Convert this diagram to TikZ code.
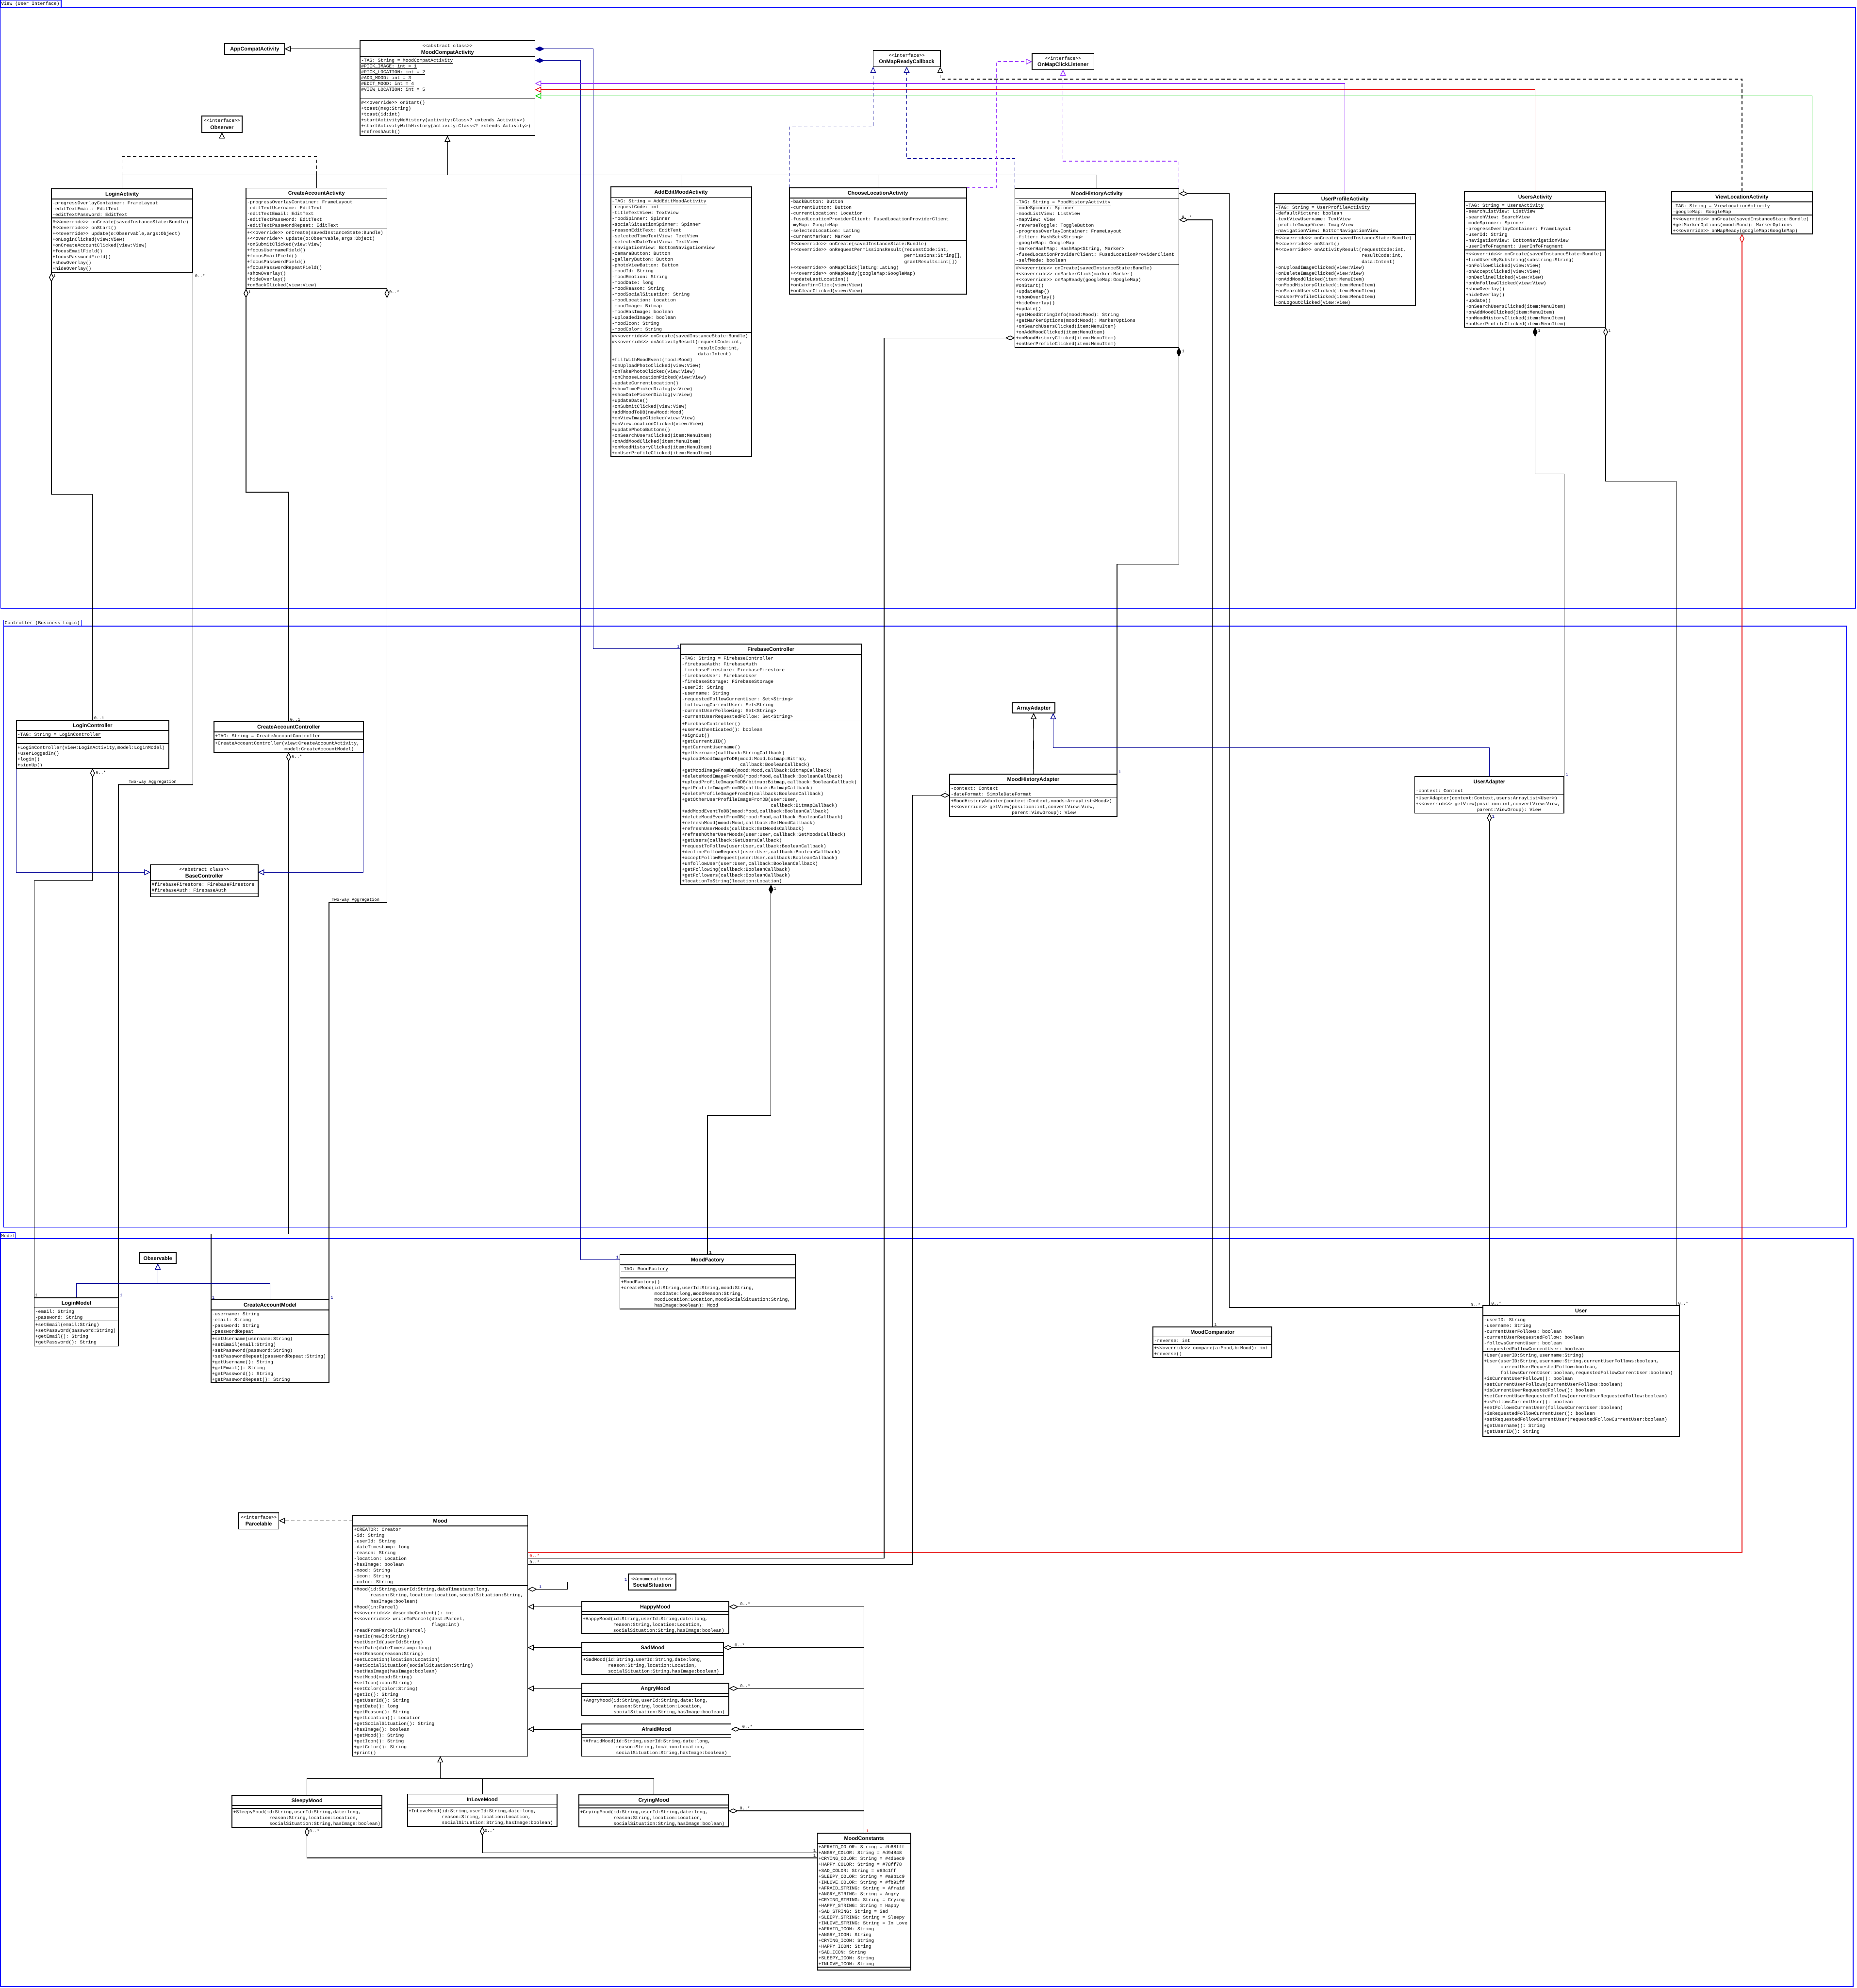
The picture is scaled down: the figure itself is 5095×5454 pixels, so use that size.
\documentclass[tikz,border=0pt]{standalone}
\usepackage{fontspec}
\setmonofont{Liberation Mono}
\newfontfamily\titlefam{Liberation Sans}
\usetikzlibrary{arrows.meta}
\definecolor{fblue}{RGB}{0,0,255}
\definecolor{cblue}{RGB}{0,0,150}
\definecolor{cpurple}{RGB}{153,51,255}
\definecolor{cred}{RGB}{230,0,0}
\definecolor{cgreen}{RGB}{0,210,0}
\newcommand{\memf}{\ttfamily\fontsize{12.7}{16}\selectfont}
\newcommand{\titlef}{\titlefam\bfseries\fontsize{14.5}{17}\selectfont}
\newcommand{\lblf}{\ttfamily\fontsize{11.5}{13}\selectfont}
\newcommand{\stt}[1]{<\kern0pt<#1>\kern0pt>}
\newcommand{\ovr}{\stt{override}}
\newcommand{\indt}[1]{\hspace*{#1\dimexpr0.6em\relax}}
\pgfdeclarelayer{bg}
\pgfsetlayers{bg,main}
\tikzset{
  box/.style={draw, line width=2.4pt, anchor=north west, inner sep=0pt, outer sep=0pt, fill=white},
  sec/.style={line width=2pt},
  ttl/.style={font=\titlef, inner sep=0pt, text height=10.5pt, text depth=0pt},
  stereo/.style={font=\memf, inner sep=0pt, text height=9pt, text depth=0pt},
  memb/.style={font=\memf, anchor=north west, inner sep=0pt, align=left},
  conn/.style={line width=1.8pt},
  gen/.style={conn, -{Triangle[open, length=17pt, width=16pt, fill=white]}},
  real/.style={gen, dash pattern=on 9pt off 7pt},
  dsh/.style={conn, dash pattern=on 9pt off 7pt},
  agg/.style={conn, {Diamond[open, length=26pt, width=13pt, fill=white]}-},
  comp/.style={conn, {Diamond[length=26pt, width=13pt]}-},
  lbl/.style={font=\lblf, inner sep=1pt},
  frm/.style={draw=fblue, line width=2pt},
  tabl/.style={font=\memf, inner sep=0pt, anchor=west},
}
\newcommand{\umlc}[8]{%
  \node[box, minimum width={#4-#2}, minimum height={#5-#3}] (#1) at (#2,#3) {};
  \draw[sec] (#2,#6) -- (#4,#6);
  \draw[sec] (#2,#7) -- (#4,#7);
  \node[ttl] at ({(#2+#4)/2},{(#3+#6)/2}) {#8};}
\newcommand{\mbr}[3]{\node[memb] at ({#1+3},{#2+3}) {\rule{0pt}{11.5pt}#3};}
\begin{document}
\begin{tikzpicture}[x=1pt,y=-1pt]
\useasboundingbox (0,0) rectangle (5095,5454);

% ================= simple boxes =================
\node[box, minimum width=164, minimum height=29] (appc) at (617,120) {};
\node[ttl] at (699,134.5) {AppCompatActivity};
\node[box, minimum width=110, minimum height=45] (obs) at (554,318) {};
\node[stereo] at (609,331) {\stt{interface}};
\node[ttl] at (609,349) {Observer};
\node[box, minimum width=184, minimum height=45] (omrc) at (2396,138) {};
\node[stereo] at (2488,152) {\stt{interface}};
\node[ttl] at (2488,169) {OnMapReadyCallback};
\node[box, minimum width=170, minimum height=44] (omcl) at (2832,147) {};
\node[stereo] at (2917,160) {\stt{interface}};
\node[ttl] at (2917,177) {OnMapClickListener};
\node[box, minimum width=117, minimum height=28] (arrA) at (2778,1928) {};
\node[ttl] at (2836.5,1942) {ArrayAdapter};
\node[box, minimum width=100, minimum height=29] (observable) at (383,3437) {};
\node[ttl] at (433,3451.5) {Observable};
\node[box, minimum width=110, minimum height=45] (parc) at (655,4150) {};
\node[stereo] at (710,4163) {\stt{interface}};
\node[ttl] at (710,4181) {Parcelable};
\node[box, minimum width=131, minimum height=44] (soc) at (1724,4318) {};
\node[stereo] at (1789.5,4331) {\stt{enumeration}};
\node[ttl] at (1789.5,4348) {SocialSituation};

% ================= View classes =================
\umlc{mca}{988}{111}{1468}{372}{155}{271}{}
\node[stereo] at (1228,125) {\stt{abstract class}};
\node[ttl] at (1228,143) {MoodCompatActivity};
\mbr{988}{155}{\underline{-TAG: String = MoodCompatActivity}\\\underline{\#PICK\_IMAGE: int = 1}\\\underline{\#PICK\_LOCATION: int = 2}\\\underline{\#ADD\_MOOD: int = 3}\\\underline{\#EDIT\_MOOD: int = 4}\\\underline{\#VIEW\_LOCATION: int = 5}}
\mbr{988}{271}{\#\ovr{} onStart()\\+toast(msg:String)\\+toast(id:int)\\+startActivityNoHistory(activity:Class<? extends Activity>)\\+startActivityWithHistory(activity:Class<? extends Activity>)\\+refreshAuth()}

\umlc{loginA}{141}{518}{529}{748}{546}{598}{LoginActivity}
\mbr{141}{546}{-progressOverlayContainer: FrameLayout\\-editTextEmail: EditText\\-editTextPassword: EditText}
\mbr{141}{598}{\#\ovr{} onCreate(savedInstanceState:Bundle)\\\#\ovr{} onStart()\\+\ovr{} update(o:Observable,args:Object)\\+onLoginClicked(view:View)\\+onCreateAccountClicked(view:View)\\+focusEmailField()\\+focusPasswordField()\\+showOverlay()\\+hideOverlay()}

\umlc{createA}{675}{516}{1062}{792}{544}{628}{CreateAccountActivity}
\mbr{675}{544}{-progressOverlayContainer: FrameLayout\\-editTextUsername: EditText\\-editTextEmail: EditText\\-editTextPassword: EditText\\-editTextPasswordRepeat: EditText}
\mbr{675}{628}{+\ovr{} onCreate(savedInstanceState:Bundle)\\+\ovr{} update(o:Observable,args:Object)\\+onSubmitClicked(view:View)\\+focusUsernameField()\\+focusEmailField()\\+focusPasswordField()\\+focusPasswordRepeatField()\\+showOverlay()\\+hideOverlay()\\+onBackClicked(view:View)}

\umlc{addEdit}{1676}{513}{2062}{1253}{541}{912}{AddEditMoodActivity}
\mbr{1676}{541}{\underline{-TAG: String = AddEditMoodActivity}\\-requestCode: int\\-titleTextView: TextView\\-moodSpinner: Spinner\\-socialSituationSpinner: Spinner\\-reasonEditText: EditText\\-selectedTimeTextView: TextView\\-selectedDateTextView: TextView\\-navigationView: BottomNavigationView\\-camaraButton: Button\\-galleryButton: Button\\-photoViewButton: Button\\-moodId: String\\-moodEmotion: String\\-moodDate: long\\-moodReason: String\\-moodSocialSituation: String\\-moodLocation: Location\\-moodImage: Bitmap\\-moodHasImage: boolean\\-uploadedImage: boolean\\-moodIcon: String\\-moodColor: String}
\mbr{1676}{912}{\#\ovr{} onCreate(savedInstanceState:Bundle)\\\#\ovr{} onActivityResult(requestCode:int,\\\indt{31}resultCode:int,\\\indt{31}data:Intent)\\+fillWithMoodEvent(mood:Mood)\\+onUploadPhotoClicked(view:View)\\+onTakePhotoClicked(view:View)\\+onChooseLocationPicked(view:View)\\-updateCurrentLocation()\\+showTimePickerDialog(v:View)\\+showDatePickerDialog(v:View)\\+updateDate()\\+onSubmitClicked(view:View)\\+addMoodToDB(newMood:Mood)\\+onViewImageClicked(view:View)\\+onViewLocationClicked(view:View)\\+updatePhotoButtons()\\+onSearchUsersClicked(item:MenuItem)\\+onAddMoodClicked(item:MenuItem)\\+onMoodHistoryClicked(item:MenuItem)\\+onUserProfileClicked(item:MenuItem)}

\umlc{chooseL}{2166}{515}{2652}{807}{543}{659}{ChooseLocationActivity}
\mbr{2166}{543}{-backButton: Button\\-currentButton: Button\\-currentLocation: Location\\-fusedLocationProviderClient: FusedLocationProviderClient\\-myMap: GoogleMap\\-selectedLocation: LatLng\\-currentMarker: Marker}
\mbr{2166}{659}{\#\ovr{} onCreate(savedInstanceState:Bundle)\\+\ovr{} onRequestPermissionsResult(requestCode:int,\\\indt{41}permissions:String[],\\\indt{41}grantResults:int[])\\+\ovr{} onMapClick(latLng:LatLng)\\+\ovr{} onMapReady(googleMap:GoogleMap)\\+updateLastLocation()\\+onConfirmClick(view:View)\\+onClearClicked(view:View)}

\umlc{mha}{2785}{517}{3235}{953}{544}{725}{MoodHistoryActivity}
\mbr{2785}{544}{\underline{-TAG: String = MoodHistoryActivity}\\-modeSpinner: Spinner\\-moodListView: ListView\\-mapView: View\\-reverseToggle: ToggleButton\\-progressOverlayContainer: FrameLayout\\-filter: HashSet<String>\\-googleMap: GoogleMap\\-markerHashMap: HashMap<String, Marker>\\-fusedLocationProviderClient: FusedLocationProviderClient\\-selfMode: boolean}
\mbr{2785}{725}{\#\ovr{} onCreate(savedInstanceState:Bundle)\\+\ovr{} onMarkerClick(marker:Marker)\\+\ovr{} onMapReady(googleMap:GoogleMap)\\\#onStart()\\+updateMap()\\+showOverlay()\\+hideOverlay()\\+update()\\+getMoodStringInfo(mood:Mood): String\\+getMarkerOptions(mood:Mood): MarkerOptions\\+onSearchUsersClicked(item:MenuItem)\\+onAddMoodClicked(item:MenuItem)\\+onMoodHistoryClicked(item:MenuItem)\\+onUserProfileClicked(item:MenuItem)}

\umlc{upa}{3497}{531}{3884}{839}{559}{643}{UserProfileActivity}
\mbr{3497}{559}{\underline{-TAG: String = UserProfileActivity}\\-defaultPicture: boolean\\-textViewUsername: TextView\\-profileImageView: ImageView\\-navigationView: BottomNavigationView}
\mbr{3497}{643}{\#\ovr{} onCreate(savedInstanceState:Bundle)\\\#\ovr{} onStart()\\\#\ovr{} onActivityResult(requestCode:int,\\\indt{31}resultCode:int,\\\indt{31}data:Intent)\\+onUploadImageClicked(view:View)\\+onDeleteImageClicked(view:View)\\+onAddMoodClicked(item:MenuItem)\\+onMoodHistoryClicked(item:MenuItem)\\+onSearchUsersClicked(item:MenuItem)\\+onUserProfileClicked(item:MenuItem)\\+onLogoutClicked(view:View)}

\umlc{usersA}{4019}{526}{4406}{898}{553}{686}{UsersActivity}
\mbr{4019}{553}{\underline{-TAG: String = UsersActivity}\\-searchListView: ListView\\-searchView: SearchView\\-modeSpinner: Spinner\\-progressOverlayContainer: FrameLayout\\-userId: String\\-navigationView: BottomNavigationView\\-userInfoFragment: UserInfoFragment}
\mbr{4019}{686}{+\ovr{} onCreate(savedInstanceState:Bundle)\\+findUsersBySubstring(substring:String)\\+onFollowClicked(view:View)\\+onAcceptClicked(view:View)\\+onDeclineClicked(view:View)\\+onUnfollowClicked(view:View)\\+showOverlay()\\+hideOverlay()\\+update()\\+onSearchUsersClicked(item:MenuItem)\\+onAddMoodClicked(item:MenuItem)\\+onMoodHistoryClicked(item:MenuItem)\\+onUserProfileClicked(item:MenuItem)}

\umlc{vla}{4587}{526}{4973}{642}{554}{590}{ViewLocationActivity}
\mbr{4587}{554}{\underline{-TAG: String = ViewLocationActivity}\\-googleMap: GoogleMap}
\mbr{4587}{590}{+\ovr{} onCreate(savedInstanceState:Bundle)\\+getMarkerOptions(mood:Mood): MarkerOptions\\+\ovr{} onMapReady(googleMap:GoogleMap)}

% ================= Controller classes =================
\umlc{loginC}{45}{1976}{463}{2108}{2004}{2040}{LoginController}
\mbr{45}{2004}{\underline{-TAG: String = LoginController}}
\mbr{45}{2040}{+LoginController(view:LoginActivity,model:LoginModel)\\+userLoggedIn()\\+login()\\+signUp()}

\umlc{createC}{587}{1980}{997}{2064}{2008}{2028}{CreateAccountController}
\mbr{587}{2008}{+TAG: String = CreateAccountController}
\mbr{587}{2028}{+CreateAccountController(view:CreateAccountActivity,\\\indt{25}model:CreateAccountModel)}

\umlc{baseC}{413}{2372}{708}{2460}{2416}{2452}{}
\node[stereo] at (560.5,2385) {\stt{abstract class}};
\node[ttl] at (560.5,2403) {BaseController};
\mbr{413}{2416}{\#firebaseFirestore: FirebaseFirestore\\\#firebaseAuth: FirebaseAuth}

\umlc{fbc}{1868}{1767}{2363}{2427}{1795}{1975}{FirebaseController}
\mbr{1868}{1795}{-TAG: String = FirebaseController\\-firebaseAuth: FirebaseAuth\\-firebaseFirestore: FirebaseFirestore\\-firebaseUser: FirebaseUser\\-firebaseStorage: FirebaseStorage\\-userId: String\\-username: String\\-requestedFollowCurrentUser: Set<String>\\-followingCurrentUser: Set<String\\-currentUserFollowing: Set<String>\\-currentUserRequestedFollow: Set<String>}
\mbr{1868}{1975}{+FirebaseController()\\+userAuthenticated(): boolean\\+signOut()\\+getCurrentUID()\\+getCurrentUsername()\\+getUsername(callback:StringCallback)\\+uploadMoodImageToDB(mood:Mood,bitmap:Bitmap,\\\indt{21}callback:BooleanCallback)\\+getMoodImageFromDB(mood:Mood,callback:BitmapCallback)\\+deleteMoodImageFromDB(mood:Mood,callback:BooleanCallback)\\+uploadProfileImageToDB(bitmap:Bitmap,callback:BooleanCallback)\\+getProfileImageFromDB(callback:BitmapCallback)\\+deleteProfileImageFromDB(callback:BooleanCallback)\\+getOtherUserProfileImageFromDB(user:User,\\\indt{32}callback:BitmapCallback)\\+addMoodEventToDB(mood:Mood,callback:BooleanCallback)\\+deleteMoodEventFromDB(mood:Mood,callback:BooleanCallback)\\+refreshMood(mood:Mood,callback:GetMoodCallback)\\+refreshUserMoods(callback:GetMoodsCallback)\\+refreshOtherUserMoods(user:User,callback:GetMoodsCallback)\\+getUsers(callback:GetUsersCallback)\\+requestToFollow(user:User,callback:BooleanCallback)\\+declineFollowRequest(user:User,callback:BooleanCallback)\\+acceptFollowRequest(user:User,callback:BooleanCallback)\\+unfollowUser(user:User,callback:BooleanCallback)\\+getFollowing(callback:BooleanCallback)\\+getFollowers(callback:BooleanCallback)\\+locationToString(location:Location)}

\umlc{mhad}{2606}{2124}{3065}{2240}{2152}{2187}{MoodHistoryAdapter}
\mbr{2606}{2152}{-context: Context\\-dateFormat: SimpleDateFormat}
\mbr{2606}{2187}{+MoodHistoryAdapter(context:Context,moods:ArrayList<Mood>)\\+\ovr{} getView(position:int,convertView:View,\\\indt{22}parent:ViewGroup): View}

\umlc{uad}{3882}{2130}{4292}{2231}{2159}{2179}{UserAdapter}
\mbr{3882}{2159}{-context: Context}
\mbr{3882}{2179}{+UserAdapter(context:Context,users:ArrayList<User>)\\+\ovr{} getView(position:int,convertView:View,\\\indt{22}parent:ViewGroup): View}

% ================= Model classes =================
\umlc{loginM}{94}{3560}{325}{3693}{3588}{3624}{LoginModel}
\mbr{94}{3588}{-email: String\\-password: String}
\mbr{94}{3624}{+setEmail(email:String)\\+setPassword(password:String)\\+getEmail(): String\\+getPassword(): String}

\umlc{createM}{579}{3566}{903}{3794}{3594}{3662}{CreateAccountModel}
\mbr{579}{3594}{-username: String\\-email: String\\-password: String\\-passwordRepeat}
\mbr{579}{3662}{+setUsername(username:String)\\+setEmail(email:String)\\+setPassword(password:String)\\+setPasswordRepeat(passwordRepeat:String)\\+getUsername(): String\\+getEmail(): String\\+getPassword(): String\\+getPasswordRepeat(): String}

\umlc{mfac}{1701}{3442}{2182}{3591}{3470}{3506}{MoodFactory}
\mbr{1701}{3470}{\underline{-TAG: MoodFactory}}
\mbr{1701}{3506}{+MoodFactory()\\+createMood(id:String,userId:String,mood:String,\\\indt{12}moodDate:long,moodReason:String,\\\indt{12}moodLocation:Location,moodSocialSituation:String,\\\indt{12}hasImage:boolean): Mood}

\umlc{mcomp}{3164}{3640}{3490}{3724}{3668}{3688}{MoodComparator}
\mbr{3164}{3668}{-reverse: int}
\mbr{3164}{3688}{+\ovr{} compare(a:Mood,b:Mood): int\\+reverse()}

\umlc{user}{4069}{3582}{4608}{3941}{3610}{3708}{User}
\mbr{4069}{3610}{-userID: String\\-username: String\\-currentUserFollows: boolean\\-currentUserRequestedFollow: boolean\\-followsCurrentUser: boolean\\-requestedFollowCurrentUser: boolean}
\mbr{4069}{3708}{+User(userID:String,username:String)\\+User(userID:String,username:String,currentUserFollows:boolean,\\\indt{6}currentUserRequestedFollow:boolean,\\\indt{6}followsCurrentUser:boolean,requestedFollowCurrentUser:boolean)\\+isCurrentUserFollows(): boolean\\+setCurrentUserFollows(currentUserFollows:boolean)\\+isCurrentUserRequestedFollow(): boolean\\+setCurrentUserRequestedFollow(currentUserRequestedFollow:boolean)\\+isFollowsCurrentUser(): boolean\\+setFollowsCurrentUser(followsCurrentUser:boolean)\\+isRequestedFollowCurrentUser(): boolean\\+setRequestedFollowCurrentUser(requestedFollowCurrentUser:boolean)\\+getUsername(): String\\+getUserID(): String}

\umlc{mood}{968}{4158}{1448}{4818}{4186}{4350}{Mood}
\mbr{968}{4186}{\underline{+CREATOR: Creator}\\-id: String\\-userId: String\\-dateTimestamp: long\\-reason: String\\-location: Location\\-hasImage: boolean\\-mood: String\\-icon: String\\-color: String}
\mbr{968}{4350}{+Mood(id:String,userId:String,dateTimestamp:long,\\\indt{6}reason:String,location:Location,socialSituation:String,\\\indt{6}hasImage:boolean)\\+Mood(in:Parcel)\\+\ovr{} describeContent(): int\\+\ovr{} writeToParcel(dest:Parcel,\\\indt{28}flags:int)\\+readFromParcel(in:Parcel)\\+setId(newId:String)\\+setUserId(userId:String)\\+setDate(dateTimestamp:long)\\+setReason(reason:String)\\+setLocation(location:Location)\\+setSocialSituation(socialSituation:String)\\+setHasImage(hasImage:boolean)\\+setMood(mood:String)\\+setIcon(icon:String)\\+setColor(color:String)\\+getId(): String\\+getUserId(): String\\+getDate(): long\\+getReason(): String\\+getLocation(): Location\\+getSocialSituation(): String\\+hasImage(): boolean\\+getMood(): String\\+getIcon(): String\\+getColor(): String\\+print()}

\umlc{happy}{1596}{4394}{2000}{4482}{4421}{4430}{HappyMood}
\mbr{1596}{4430}{+HappyMood(id:String,userId:String,date:long,\\\indt{11}reason:String,location:Location,\\\indt{11}socialSituation:String,hasImage:boolean)}
\umlc{sad}{1597}{4506}{1985}{4594}{4534}{4542}{SadMood}
\mbr{1597}{4542}{+SadMood(id:String,userId:String,date:long,\\\indt{9}reason:String,location:Location,\\\indt{9}socialSituation:String,hasImage:boolean)}
\umlc{angry}{1597}{4618}{2000}{4706}{4646}{4654}{AngryMood}
\mbr{1597}{4654}{+AngryMood(id:String,userId:String,date:long,\\\indt{11}reason:String,location:Location,\\\indt{11}socialSituation:String,hasImage:boolean)}
\umlc{afraid}{1596}{4730}{2006}{4818}{4758}{4766}{AfraidMood}
\mbr{1596}{4766}{+AfraidMood(id:String,userId:String,date:long,\\\indt{12}reason:String,location:Location,\\\indt{12}socialSituation:String,hasImage:boolean)}
\umlc{sleepy}{637}{4925}{1048}{5013}{4953}{4961}{SleepyMood}
\mbr{637}{4961}{+SleepyMood(id:String,userId:String,date:long,\\\indt{13}reason:String,location:Location,\\\indt{13}socialSituation:String,hasImage:boolean)}
\umlc{inlove}{1118}{4922}{1529}{5011}{4951}{4958}{InLoveMood}
\mbr{1118}{4958}{+InLoveMood(id:String,userId:String,date:long,\\\indt{12}reason:String,location:Location,\\\indt{12}socialSituation:String,hasImage:boolean)}
\umlc{crying}{1589}{4924}{1999}{5012}{4952}{4960}{CryingMood}
\mbr{1589}{4960}{+CryingMood(id:String,userId:String,date:long,\\\indt{12}reason:String,location:Location,\\\indt{12}socialSituation:String,hasImage:boolean)}

\umlc{mconst}{2243}{5029}{2499}{5405}{5057}{5397}{MoodConstants}
\mbr{2243}{5057}{+AFRAID\_COLOR: String = \#b68fff\\+ANGRY\_COLOR: String = \#d94848\\+CRYING\_COLOR: String = \#4d6ec9\\+HAPPY\_COLOR: String = \#78ff78\\+SAD\_COLOR: String = \#63c1ff\\+SLEEPY\_COLOR: String = \#a9b1c9\\+INLOVE\_COLOR: String = \#fb91ff\\+AFRAID\_STRING: String = Afraid\\+ANGRY\_STRING: String = Angry\\+CRYING\_STRING: String = Crying\\+HAPPY\_STRING: String = Happy\\+SAD\_STRING: String = Sad\\+SLEEPY\_STRING: String = Sleepy\\+INLOVE\_STRING: String = In Love\\+AFRAID\_ICON: String\\+ANGRY\_ICON: String\\+CRYING\_ICON: String\\+HAPPY\_ICON: String\\+SAD\_ICON: String\\+SLEEPY\_ICON: String\\+INLOVE\_ICON: String}

% ================= frames and connectors (background) =================
\begin{pgfonlayer}{bg}
\fill[white] (0,0) rectangle (5095,5454);
\draw[frm] (1,0) rectangle (168,21);
\node[tabl] (tabV) at (3,11) {View (User Interface)};
\draw[frm] (2,21) rectangle (5092,1669);
\draw[frm] (10,1701) rectangle (223,1718);
\node[tabl] (tabC) at (13,1710) {Controller (Business Logic)};
\draw[frm] (10,1718) rectangle (5067,3367);
\draw[frm] (1,3381) rectangle (42,3398);
\node[tabl] (tabM) at (3,3390) {Model};
\draw[frm] (1,3398) rectangle (5085,5450);

% generalizations in View
\draw[gen] (mca.west |- 0,134) -- (appc.east |- 0,134);
\draw[conn] (loginA.north) -- (335,480) -- (3011,480);
\draw[conn] (createA.north) -- (868.5,480);
\draw[conn] (addEdit.north) -- (1869,480);
\draw[conn] (chooseL.north) -- (2409,480);
\draw[conn] (mha.north) -- (3010,480);
\draw[gen] (1228,480) -- (mca.south);
\draw[dsh] (335,480) -- (335,430) -- (868.5,430) -- (868.5,480);
\draw[real] (609,430) -- (obs.south);

\draw[comp, cblue] (mca.east |- 0,134) -- (1628,134) -- (1628,1780) -- (fbc.west |- 0,1780);
\draw[comp, cblue] (mca.east |- 0,166) -- (1593,166) -- (1593,3456) -- (mfac.west |- 0,3456);

\draw[gen, cpurple] (upa.north) -- (3690.5,229) -- (mca.east |- 0,229);
\draw[gen, cred] (usersA.north) -- (4212.5,246) -- (mca.east |- 0,246);
\draw[gen, cgreen] (vla.north east) -- (4973,263) -- (mca.east |- 0,263);

\draw[real, cblue] (chooseL.north west) -- (2166,348) -- (2396,348) -- (omrc.south west);
\draw[real, cblue] (mha.north west) -- (2785,435) -- (2488,435) -- (omrc.south);
\draw[real] (vla.north) -- (4780,217) -- (2580,217) -- (omrc.south east);
\draw[real, cpurple] (chooseL.north east) -- (2734,515) -- (2734,169) -- (omcl.west |- 0,169);
\draw[real, cpurple] (mha.north east) -- (3235,442) -- (2917,442) -- (omcl.south);

% associations
\draw[agg, cred] (vla.south) -- (4780,4259) -- (mood.east |- 0,4259);
\draw[agg] (mha.west |- 0,927) -- (2426,927) -- (2426,4275) -- (mood.east |- 0,4275);
\draw[agg] (mhad.west |- 0,2182) -- (2504,2182) -- (2504,4292) -- (mood.east |- 0,4292);
\draw[agg] (mha.east |- 0,531) -- (3373,531) -- (3373,3587) -- (user.west |- 0,3587);
\draw[agg] (mha.east |- 0,603) -- (3327,603) -- (mcomp.north);
\draw[comp] (mha.south east) -- (3235,1548) -- (3065,1548) -- (mhad.north east);
\draw[gen] (mhad.north) -- (arrA.south);
\draw[gen, cblue] (uad.north) -- (4087,2051) -- (2890,2051) -- ([xshift=-5pt]arrA.south east);
\draw[comp] (usersA.south) -- (4212.5,1300) -- (4292,1300) -- (uad.north east);
\draw[agg] (usersA.south east) -- (4406,1320) -- (4600,1320) -- ([xshift=-8pt]user.north east);
\draw[agg] (uad.south) -- (uad.south |- user.north);

\draw[agg] (loginA.south west) -- (141,1356) -- (254,1356) -- (loginC.north);
\draw[conn] (loginA.south east) -- (529,2153) -- (325,2153) -- (loginM.north east);
\draw[agg] (createA.south west) -- (675,1350) -- (792,1350) -- (createC.north);
\draw[agg] (createA.south east) -- (1062,2476) -- (903,2476) -- (createM.north east);
\draw[agg] (loginC.south) -- (254,2416) -- (94,2416) -- (loginM.north west);
\draw[agg] (createC.south) -- (792,3385) -- (579,3385) -- (createM.north west);
\draw[gen, cblue] (loginC.south west) -- (45,2393) -- (baseC.west |- 0,2393);
\draw[gen, cblue] (createC.south east) -- (997,2393) -- (baseC.east |- 0,2393);
\draw[conn, cblue] (loginM.north) -- (209.5,3521) -- (433,3521);
\draw[conn, cblue] (createM.north) -- (741,3521) -- (433,3521);
\draw[gen, cblue] (433,3521) -- (observable.south);
\draw[comp] (fbc.south) -- (2115.5,3060) -- (1941.5,3060) -- (mfac.north);

\draw[real] (mood.west |- 0,4172) -- (parc.east |- 0,4172);
\draw[agg] (mood.east |- 0,4360) -- (1557,4360) -- (1557,4340) -- (soc.west |- 0,4340);
\draw[gen] (happy.west |- 0,4408) -- (mood.east |- 0,4408);
\draw[gen] (sad.west |- 0,4520) -- (mood.east |- 0,4520);
\draw[gen] (angry.west |- 0,4632) -- (mood.east |- 0,4632);
\draw[gen] (afraid.west |- 0,4744) -- (mood.east |- 0,4744);
\draw[gen] (1208,4879) -- (mood.south);
\draw[conn] (sleepy.north) -- (842.5,4879) -- (1794,4879) -- (crying.north);
\draw[conn] (inlove.north) -- (1323.5,4879);
\draw[agg] (happy.east |- 0,4408) -- (2371,4408) -- (mconst.north);
\draw[agg] (sad.east |- 0,4520) -- (2371,4520);
\draw[agg] (angry.east |- 0,4632) -- (2371,4632);
\draw[agg] (afraid.east |- 0,4744) -- (2371,4744);
\draw[agg] (crying.east |- 0,4968) -- (2371,4968);
\draw[agg] (sleepy.south) -- (842.5,5097) -- (mconst.west |- 0,5097);
\draw[agg] (inlove.south) -- (1323.5,5083) -- (mconst.west |- 0,5083);
\end{pgfonlayer}

% ================= multiplicity labels =================
\node[lbl, cblue, anchor=south east] at (1866,1779) {1};
\node[lbl, cblue, anchor=south east] at (1699,3455) {1};
\node[lbl, anchor=north west] at (145,752) {1};
\node[lbl, anchor=north west] at (534,752) {0..*};
\node[lbl, anchor=north west] at (680,796) {1};
\node[lbl, anchor=north west] at (1067,796) {0..*};
\node[lbl, anchor=south west] at (257,1975) {0..1};
\node[lbl, anchor=north west] at (262,2114) {0..*};
\node[lbl, anchor=south west] at (795,1979) {0..1};
\node[lbl, anchor=north west] at (800,2070) {0..*};
\node[lbl, anchor=south west] at (352,2152) {Two-way Aggregation};
\node[lbl, anchor=south west] at (909,2475) {Two-way Aggregation};
\node[lbl, anchor=south west] at (95,3559) {1};
\node[lbl, cblue, anchor=south west] at (328,3559) {1};
\node[lbl, cblue, anchor=south west] at (581,3565) {1};
\node[lbl, cblue, anchor=south west] at (906,3565) {1};
\node[lbl, anchor=south west] at (1945,3441) {1};
\node[lbl, anchor=north west] at (2122,2432) {1};
\node[lbl, anchor=south west] at (3242,529) {1};
\node[lbl, anchor=south west] at (3242,601) {0..*};
\node[lbl, anchor=north west] at (3242,958) {1};
\node[lbl, anchor=south west] at (3331,3639) {1};
\node[lbl, anchor=south east] at (4064,3585) {0..*};
\node[lbl, anchor=south west] at (4091,3581) {0..*};
\node[lbl, anchor=south west] at (4604,3581) {0..*};
\node[lbl, cblue, anchor=south west] at (3068,2123) {1};
\node[lbl, anchor=south east] at (2600,2180) {1};
\node[lbl, cblue, anchor=south west] at (4295,2129) {1};
\node[lbl, cblue, anchor=north west] at (4093,2236) {1};
\node[lbl, anchor=north west] at (4219,903) {1};
\node[lbl, anchor=north west] at (4412,903) {1};
\node[lbl, cred, anchor=west] at (1452,4268) {0..*};
\node[lbl, anchor=west] at (1452,4285) {0..*};
\node[lbl, cblue, anchor=south west] at (1478,4358) {1};
\node[lbl, cblue, anchor=south east] at (1722,4338) {1};
\node[lbl, anchor=south west] at (2030,4406) {0..*};
\node[lbl, anchor=south west] at (2015,4518) {0..*};
\node[lbl, anchor=south west] at (2030,4630) {0..*};
\node[lbl, anchor=south west] at (2036,4742) {0..*};
\node[lbl, anchor=south west] at (2029,4966) {0..*};
\node[lbl, cred, anchor=south west] at (2375,5028) {1};
\node[lbl, anchor=south east] at (2240,5082) {1};
\node[lbl, anchor=south east] at (2240,5096) {1};
\node[lbl, anchor=north west] at (848,5018) {0..*};
\node[lbl, anchor=north west] at (1329,5016) {0..*};
\end{tikzpicture}
\end{document}
